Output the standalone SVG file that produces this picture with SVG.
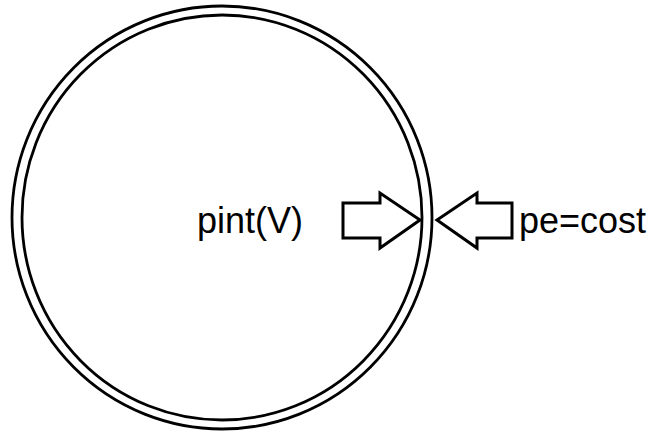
<svg xmlns="http://www.w3.org/2000/svg" width="654" height="435" viewBox="0 0 654 435">
<style>
.ring{fill:none;stroke:#000;stroke-width:2.8}
.arrow{fill:#fff;stroke:#000;stroke-width:3;stroke-linejoin:miter}
.lbl{font-family:"Liberation Sans",Arial,sans-serif;font-size:36px;fill:#000}
</style>
<rect width="654" height="435" fill="#fff"/>
<g id="vessel">
<ellipse class="ring" cx="222" cy="217.5" rx="210" ry="211.5"/>
<ellipse class="ring" cx="222" cy="217.5" rx="200" ry="202.5"/>
</g>
<g id="connectors">
<polygon id="arrow-in" class="arrow" points="343,203 380,203 380,193 420,220 380,248 380,238 343,238"/>
<polygon id="arrow-out" class="arrow" points="512,203 477,203 477,193 437,220 477,248 477,238 512,238"/>
</g>
<g id="label-pint"><text class="lbl" x="197" y="233">pint(V)</text></g>
<g id="label-pe"><text class="lbl" x="519" y="233">pe=cost</text></g>
</svg>
